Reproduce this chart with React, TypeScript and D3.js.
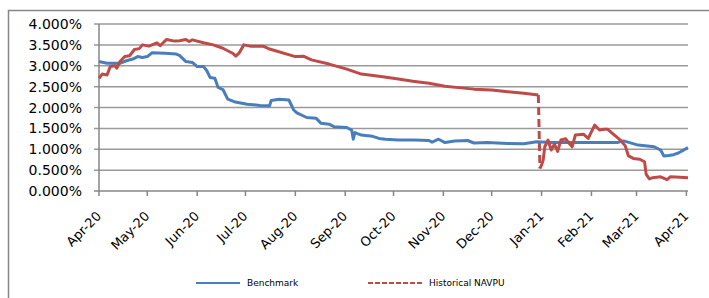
import * as d3 from 'd3';

// Benchmark series
const benchDates = [
  '2020-04-01', '2020-04-06', '2020-04-14', '2020-04-18', '2020-04-22', '2020-04-25', '2020-04-28',
  '2020-05-01', '2020-05-04', '2020-05-12', '2020-05-19', '2020-05-21', '2020-05-25', '2020-05-29',
  '2020-06-01', '2020-06-05', '2020-06-07', '2020-06-09', '2020-06-12', '2020-06-14', '2020-06-17',
  '2020-06-20', '2020-06-24', '2020-07-02', '2020-07-10', '2020-07-16', '2020-07-17', '2020-07-22',
  '2020-07-28', '2020-07-31', '2020-08-02', '2020-08-08', '2020-08-14', '2020-08-17', '2020-08-22',
  '2020-08-25', '2020-09-02', '2020-09-05', '2020-09-06', '2020-09-07', '2020-09-11', '2020-09-18',
  '2020-09-22', '2020-09-26', '2020-10-04', '2020-10-14', '2020-10-23', '2020-10-25', '2020-10-29',
  '2020-11-02', '2020-11-08', '2020-11-16', '2020-11-20', '2020-11-28', '2020-12-11', '2020-12-21',
  '2020-12-29', '2021-01-08', '2021-01-24', '2021-02-05', '2021-02-17', '2021-02-21', '2021-03-02',
  '2021-03-12', '2021-03-16', '2021-03-18', '2021-03-21', '2021-03-24', '2021-03-27', '2021-04-02',
];
const benchValues = [
  3.10, 3.06, 3.06, 3.12, 3.16, 3.22, 3.20,
  3.22, 3.31, 3.30, 3.28, 3.25, 3.10, 3.08,
  2.98, 2.98, 2.88, 2.72, 2.70, 2.48, 2.43,
  2.20, 2.14, 2.08, 2.05, 2.04, 2.17, 2.20,
  2.18, 1.94, 1.87, 1.76, 1.74, 1.62, 1.60,
  1.54, 1.52, 1.46, 1.24, 1.40, 1.34, 1.31,
  1.26, 1.24, 1.22, 1.22, 1.21, 1.17, 1.24,
  1.16, 1.20, 1.21, 1.15, 1.16, 1.14, 1.13,
  1.18, 1.16, 1.16, 1.16, 1.16, 1.20, 1.10,
  1.06, 0.98, 0.84, 0.85, 0.87, 0.91, 1.04,
];

// Historical NAVPU series
const navDates = [
  '2020-04-01', '2020-04-03', '2020-04-06', '2020-04-08', '2020-04-11', '2020-04-12', '2020-04-14',
  '2020-04-17', '2020-04-20', '2020-04-23', '2020-04-26', '2020-04-28', '2020-05-02', '2020-05-07',
  '2020-05-09', '2020-05-13', '2020-05-18', '2020-05-21', '2020-05-25', '2020-05-27', '2020-05-29',
  '2020-06-05', '2020-06-11', '2020-06-17', '2020-06-23', '2020-06-25', '2020-06-27', '2020-06-30',
  '2020-07-04', '2020-07-12', '2020-07-16', '2020-08-01', '2020-08-06', '2020-08-11', '2020-08-22',
  '2020-09-02', '2020-09-11', '2020-09-22', '2020-10-03', '2020-10-13', '2020-10-23', '2020-11-02',
  '2020-11-12', '2020-11-20', '2020-12-01', '2020-12-11', '2020-12-21', '2020-12-30', '2020-12-31',
  '2021-01-01', '2021-01-02', '2021-01-03', '2021-01-05', '2021-01-07', '2021-01-09', '2021-01-11',
  '2021-01-13', '2021-01-16', '2021-01-18', '2021-01-20', '2021-01-22', '2021-01-27', '2021-01-30',
  '2021-02-03', '2021-02-06', '2021-02-09', '2021-02-11', '2021-02-14', '2021-02-19', '2021-02-22',
  '2021-02-24', '2021-02-27', '2021-03-03', '2021-03-06', '2021-03-07', '2021-03-09', '2021-03-11',
  '2021-03-16', '2021-03-20', '2021-03-22', '2021-03-28', '2021-04-02',
];
const navValues = [
  2.70, 2.80, 2.78, 2.98, 3.00, 2.94, 3.10,
  3.22, 3.24, 3.39, 3.41, 3.50, 3.47, 3.55,
  3.48, 3.63, 3.59, 3.60, 3.63, 3.58, 3.62,
  3.55, 3.50, 3.42, 3.30, 3.23, 3.30, 3.50,
  3.47, 3.47, 3.40, 3.22, 3.23, 3.14, 3.04,
  2.92, 2.80, 2.75, 2.69, 2.63, 2.58, 2.51,
  2.47, 2.44, 2.42, 2.38, 2.34, 2.30, 0.54,
  0.62, 0.74, 1.06, 1.22, 0.98, 1.12, 0.95,
  1.22, 1.25, 1.15, 1.06, 1.34, 1.36, 1.26,
  1.58, 1.46, 1.48, 1.48, 1.38, 1.22, 1.08,
  0.84, 0.78, 0.76, 0.70, 0.40, 0.29, 0.32,
  0.34, 0.27, 0.34, 0.33, 0.32,
];

const yTicks = [0, 0.5, 1, 1.5, 2, 2.5, 3, 3.5, 4];
const legendLabels = ['Benchmark', 'Historical NAVPU'];

const BLUE = '#4a7ebb';
const RED = '#be4b48';
const GRID = '#9a9a9a';

const parse = d3.timeParse('%Y-%m-%d');

export default function App() {
  const width = 709;
  const height = 298;
  const plot = { left: 99, right: 688, top: 24, bottom: 191 };

  const x = d3.scaleTime()
    .domain([parse('2020-04-01')!, parse('2021-04-02')!])
    .range([plot.left, plot.right]);
  const y = d3.scaleLinear().domain([0, 4]).range([plot.bottom, plot.top]);

  const months = d3.timeMonth.range(parse('2020-04-01')!, parse('2021-04-02')!);
  const fmt = d3.timeFormat('%b-%y');
  const pct = d3.format('.3f');

  const line = d3.line<[number, number]>();

  const benchPts: [number, number][] = benchDates.map((d, i) => [x(parse(d)!), y(benchValues[i])]);

  // Excel dashes restart on every segment of a daily series, so only steep jumps look dashed
  const navPts: [number, number][] = navDates.map((d, i) => [x(parse(d)!), y(navValues[i])]);
  const runs: [number, number][][] = [];
  const jumps: [number, number][][] = [];
  let run: [number, number][] = [navPts[0]];
  for (let i = 1; i < navPts.length; i++) {
    const days = (parse(navDates[i])!.getTime() - parse(navDates[i - 1])!.getTime()) / 864e5;
    const len = Math.hypot(navPts[i][0] - navPts[i - 1][0], navPts[i][1] - navPts[i - 1][1]);
    if (len / days > 20) {
      runs.push(run);
      jumps.push([navPts[i - 1], navPts[i]]);
      run = [navPts[i]];
    } else {
      run.push(navPts[i]);
    }
  }
  runs.push(run);

  const font = "'DejaVu Sans', sans-serif";

  return (
    <>
      <style>{'body{margin:0}'}</style>
      <svg width={width} height={height} style={{ display: 'block', background: '#fff' }}>
        {/* chart frame, cropped at right and bottom */}
        <rect x={8.5} y={10.5} width={760} height={320} fill="none" stroke="#868686" strokeWidth={1.5} />

        {yTicks.map(t => (
          <g key={t}>
            <line x1={plot.left - 5} x2={plot.right} y1={y(t)} y2={y(t)}
              stroke={t === 0 ? '#868686' : GRID} strokeWidth={1.5} />
            <text x={82} y={y(t)} dy="0.36em" textAnchor="end" fontFamily={font} fontSize={14} fill="#000">
              {pct(t)}%
            </text>
          </g>
        ))}
        <line x1={plot.left} x2={plot.left} y1={plot.top} y2={plot.bottom} stroke="#868686" strokeWidth={1.5} />

        {months.map(m => {
          const mx = x(m);
          return (
            <g key={m.getTime()}>
              <line x1={mx} x2={mx} y1={plot.bottom} y2={plot.bottom + 5} stroke="#868686" strokeWidth={1.5} />
              <text transform={`translate(${mx + 3},${217}) rotate(-45)`} textAnchor="end"
                fontFamily={font} fontSize={13} fill="#000">
                {fmt(m)}
              </text>
            </g>
          );
        })}

        <path d={line(benchPts)!} fill="none" stroke={BLUE} strokeWidth={3} strokeLinejoin="round" />
        {runs.map((r, i) => (
          <path key={i} d={line(r)!} fill="none" stroke={RED} strokeWidth={3} strokeLinejoin="round" />
        ))}
        {jumps.map((j, i) => (
          <path key={i} d={line(j)!} fill="none" stroke={RED} strokeWidth={3} strokeDasharray="8,4" />
        ))}

        {/* legend */}
        <line x1={196} x2={240} y1={283} y2={283} stroke={BLUE} strokeWidth={2} />
        <text x={247} y={283} dy="0.35em" fontFamily={font} fontSize={9} fill="#000">{legendLabels[0]}</text>
        <line x1={368} x2={424} y1={283} y2={283} stroke={RED} strokeWidth={2} strokeDasharray="5,2" />
        <text x={429} y={283} dy="0.35em" fontFamily={font} fontSize={9} fill="#000">{legendLabels[1]}</text>
      </svg>
    </>
  );
}
